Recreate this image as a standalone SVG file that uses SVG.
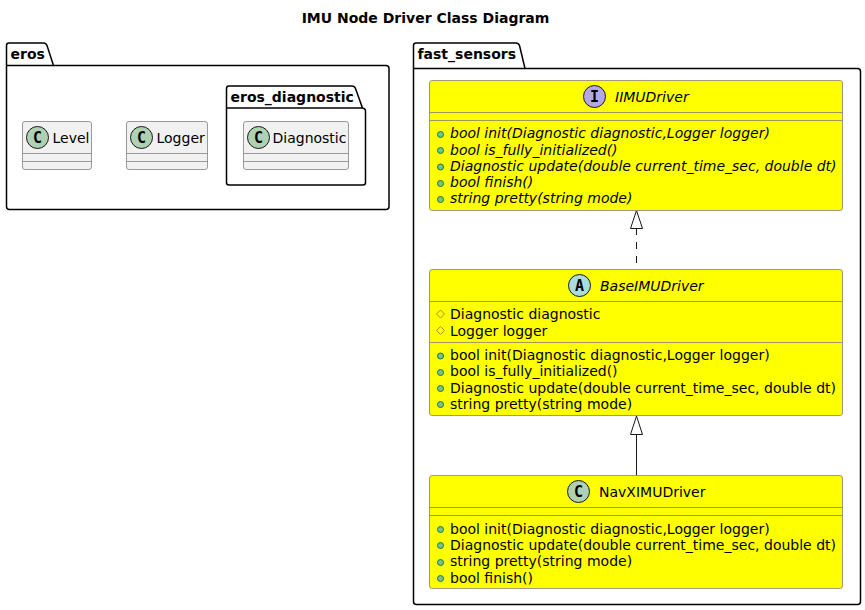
<svg xmlns="http://www.w3.org/2000/svg" width="865" height="610" viewBox="0 0 865 610">
<style>
text{font-family:"DejaVu Sans",sans-serif;font-size:14px;fill:#000}
.title,.pkgt{font-weight:bold}
.i{font-style:italic}
.pkg{fill:#fff;stroke:#000;stroke-width:1.5}
.cls{stroke:#7b7b7b;stroke-width:.75}
.y{fill:#ff0}
.g{fill:#f1f1f1}
.sep{stroke:#7b7b7b;stroke-width:.75;fill:none}
.ic{stroke:#181818;stroke-width:1}
.pub{fill:#84be84;stroke:#038048;stroke-width:1}
.prot{fill:none;stroke:#b38d22;stroke-width:1}
.glyph{font-family:"DejaVu Sans Mono",monospace;font-weight:bold;font-size:15px;text-anchor:middle}
.arrow{fill:#fff;stroke:#181818;stroke-width:1}
.line{stroke:#181818;stroke-width:1;fill:none}
</style>
<text class="title" x="425.5" y="23" text-anchor="middle">IMU Node Driver Class Diagram</text>

<g id="pkg-eros">
<path class="pkg" d="M9,43H43.5Q46,43 47,45.5L53.5,65.5H386Q389,65.5 389,68.5V206.5Q389,209.5 386,209.5H9.5Q6.5,209.5 6.5,206.5V45.5Q6.5,43 9,43Z"/>
<path class="pkg" d="M6.5,65.5H53.5" fill="none"/>
<text class="pkgt" x="10.5" y="58.5">eros</text>
</g>
<g id="pkg-eros_diagnostic">
<path class="pkg" d="M229,86H352Q354.5,86 355.5,88.5L362.5,108Q365.5,108.5 365.5,111V182.5Q365.5,185 363,185H229Q226.5,185 226.5,182.5V88.5Q226.5,86 229,86Z"/>
<path class="pkg" d="M226.5,108H362.5" fill="none"/>
<text class="pkgt" x="230.5" y="101.5">eros_diagnostic</text>
</g>
<g id="pkg-fast_sensors">
<path class="pkg" d="M416,43H516Q518.5,43 519.5,45.5L525,68.5H857.5Q860.5,68.5 860.5,71.5V601.5Q860.5,604.5 857.5,604.5H416.5Q413.5,604.5 413.5,601.5V45.5Q413.5,43 416,43Z"/>
<path class="pkg" d="M413.5,68.5H525" fill="none"/>
<text class="pkgt" x="417.5" y="58.5">fast_sensors</text>
</g>

<g id="connectors">
<path class="line" stroke-dasharray="7 7" d="M636.5,228V269.5"/>
<path class="arrow" d="M636.5,210.5L642.5,228.5H630.5Z"/>
<path class="line" d="M636.5,434.5V475.5"/>
<path class="arrow" d="M636.5,416L642.5,434.5H630.5Z"/>
</g>

<g id="Level">
<rect class="cls g" x="22.5" y="121.5" width="69" height="48" rx="2.5"/>
<path class="sep" d="M22.5,153.5H91.5M22.5,161.5H91.5"/>
<circle class="ic" cx="37.5" cy="137.5" r="11" fill="#add1b2"/>
<text class="glyph" x="37.5" y="143">C</text>
<text x="52.5" y="142.5">Level</text>
</g>
<g id="Logger">
<rect class="cls g" x="126.5" y="121.5" width="81" height="48" rx="2.5"/>
<path class="sep" d="M126.5,153.5H207.5M126.5,161.5H207.5"/>
<circle class="ic" cx="141.5" cy="137.5" r="11" fill="#add1b2"/>
<text class="glyph" x="141.5" y="143">C</text>
<text x="156.5" y="142.5">Logger</text>
</g>
<g id="Diagnostic">
<rect class="cls g" x="243.5" y="121.5" width="105" height="48" rx="2.5"/>
<path class="sep" d="M243.5,153.5H348.5M243.5,161.5H348.5"/>
<circle class="ic" cx="258.5" cy="137.5" r="11" fill="#add1b2"/>
<text class="glyph" x="258.5" y="143">C</text>
<text x="272.5" y="142.5">Diagnostic</text>
</g>

<g id="IIMUDriver">
<rect class="cls y" x="429.5" y="80.5" width="413" height="130" rx="2.5"/>
<path class="sep" d="M429.5,112.5H842.5M429.5,120.5H842.5"/>
<circle class="ic" cx="594.5" cy="96.5" r="11" fill="#b4a7e5"/>
<text class="glyph" x="594.5" y="102">I</text>
<text class="i" x="615" y="101.5">IIMUDriver</text>
<circle class="pub" cx="440.5" cy="134.5" r="3"/>
<circle class="pub" cx="440.5" cy="150.5" r="3"/>
<circle class="pub" cx="440.5" cy="167" r="3"/>
<circle class="pub" cx="440.5" cy="183.5" r="3"/>
<circle class="pub" cx="440.5" cy="199.5" r="3"/>
<text class="i" x="450" y="138">bool init(Diagnostic diagnostic,Logger logger)</text>
<text class="i" x="450" y="154.5">bool is_fully_initialized()</text>
<text class="i" x="450" y="170.5">Diagnostic update(double current_time_sec, double dt)</text>
<text class="i" x="450" y="187">bool finish()</text>
<text class="i" x="450" y="203">string pretty(string mode)</text>
</g>

<g id="BaseIMUDriver">
<rect class="cls y" x="429.5" y="269.5" width="413" height="146" rx="2.5"/>
<path class="sep" d="M429.5,301.5H842.5M429.5,342.5H842.5"/>
<circle class="ic" cx="579.5" cy="285.5" r="11" fill="#a9dcdf"/>
<text class="glyph" x="579.5" y="291">A</text>
<text class="i" x="600" y="291">BaseIMUDriver</text>
<path class="prot" d="M440.5,310L444.5,314L440.5,318L436.5,314Z"/>
<path class="prot" d="M440.5,326.5L444.5,330.5L440.5,334.5L436.5,330.5Z"/>
<text x="450" y="319">Diagnostic diagnostic</text>
<text x="450" y="335.5">Logger logger</text>
<circle class="pub" cx="440.5" cy="356" r="3"/>
<circle class="pub" cx="440.5" cy="372.5" r="3"/>
<circle class="pub" cx="440.5" cy="388.5" r="3"/>
<circle class="pub" cx="440.5" cy="404.5" r="3"/>
<text x="450" y="360">bool init(Diagnostic diagnostic,Logger logger)</text>
<text x="450" y="376">bool is_fully_initialized()</text>
<text x="450" y="392.5">Diagnostic update(double current_time_sec, double dt)</text>
<text x="450" y="408.5">string pretty(string mode)</text>
</g>

<g id="NavXIMUDriver">
<rect class="cls y" x="429.5" y="475.5" width="413" height="113" rx="2.5"/>
<path class="sep" d="M429.5,507.5H842.5M429.5,515.5H842.5"/>
<circle class="ic" cx="578.5" cy="491.5" r="11" fill="#add1b2"/>
<text class="glyph" x="578.5" y="497">C</text>
<text x="599" y="497">NavXIMUDriver</text>
<circle class="pub" cx="440.5" cy="529.5" r="3"/>
<circle class="pub" cx="440.5" cy="545.5" r="3"/>
<circle class="pub" cx="440.5" cy="562.5" r="3"/>
<circle class="pub" cx="440.5" cy="578.5" r="3"/>
<text x="450" y="533.5">bool init(Diagnostic diagnostic,Logger logger)</text>
<text x="450" y="549.5">Diagnostic update(double current_time_sec, double dt)</text>
<text x="450" y="566">string pretty(string mode)</text>
<text x="450" y="582.5">bool finish()</text>
</g>
</svg>
